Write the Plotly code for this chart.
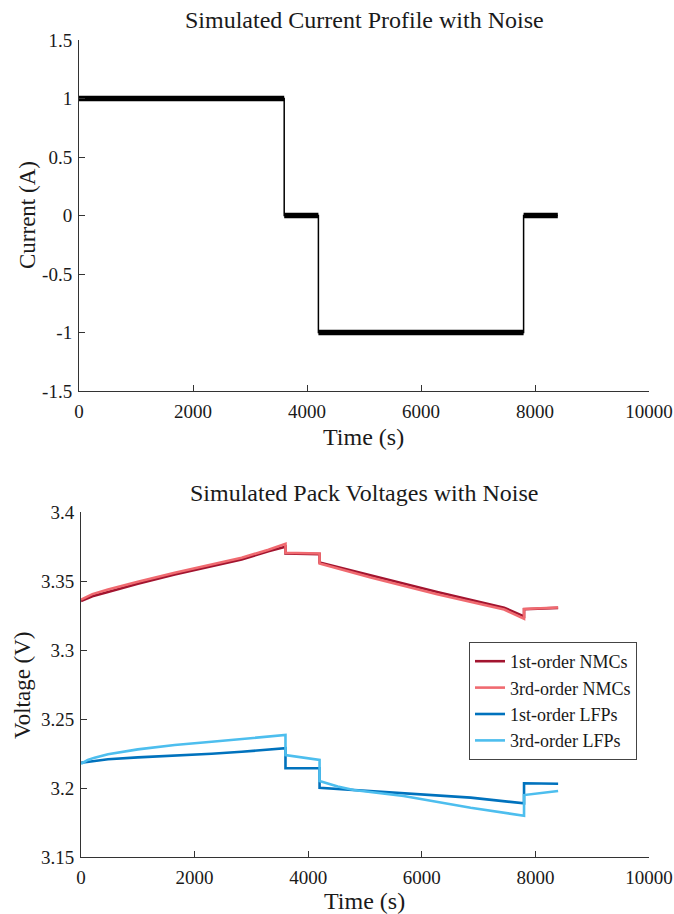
import plotly.graph_objects as go

# ---------------- data ----------------
# Current profile: plateaus (start time, end time, level)
cur_start = [0, 3600, 4200, 7800]
cur_end = [3600, 4200, 7800, 8400]
cur_level = [1.0, 0.0, -1.0, 0.0]

# Pack voltages (time in s, voltage in V); repeated times mark step jumps
nmc1_t = [0, 100, 200, 475, 1000, 1650, 2300, 2828, 3300, 3600, 3600, 4200, 4200, 5100, 6270, 7450, 7800, 7800, 8400]
nmc1_v = [3.3355, 3.3375, 3.3390, 3.3420, 3.3480, 3.3547, 3.3607, 3.3656, 3.3715, 3.3748, 3.3700, 3.3695, 3.3634, 3.3542, 3.3421, 3.3307, 3.3244, 3.3295, 3.3305]

nmc3_t = [0, 100, 200, 475, 1000, 1650, 2300, 2828, 3300, 3600, 3600, 4200, 4200, 5100, 6270, 7450, 7800, 7800, 8400]
nmc3_v = [3.3365, 3.3388, 3.3405, 3.3438, 3.3495, 3.3559, 3.3620, 3.3668, 3.3727, 3.3770, 3.3705, 3.3700, 3.3627, 3.3525, 3.3404, 3.3293, 3.3227, 3.3298, 3.3308]

lfp1_t = [0, 240, 475, 1000, 1650, 2300, 2828, 3600, 3600, 4200, 4200, 4800, 5680, 6860, 7800, 7800, 8400]
lfp1_v = [3.2183, 3.2198, 3.2208, 3.2222, 3.2234, 3.2248, 3.2263, 3.2288, 3.2143, 3.2143, 3.2002, 3.1986, 3.1966, 3.1930, 3.1889, 3.2034, 3.2031]

lfp3_t = [0, 120, 240, 475, 1000, 1650, 2300, 2828, 3300, 3600, 3600, 4200, 4200, 4520, 4800, 5680, 6860, 7800, 7800, 8100, 8400]
lfp3_v = [3.2175, 3.2203, 3.2220, 3.2244, 3.2280, 3.2312, 3.2335, 3.2353, 3.2370, 3.2384, 3.2239, 3.2203, 3.2051, 3.2011, 3.1986, 3.1942, 3.1857, 3.1799, 3.1949, 3.1966, 3.1978]

series_names = ["1st-order NMCs", "3rd-order NMCs", "1st-order LFPs", "3rd-order LFPs"]
series_colors = ["#A2142F", "#F06A70", "#0072BD", "#4DBEEE"]

x_ticks = [0, 2000, 4000, 6000, 8000, 10000]
x_ticktext = ["0", "2000", "4000", "6000", "8000", "10000"]
cur_ticks = [-1.5, -1, -0.5, 0, 0.5, 1, 1.5]
cur_ticktext = ["-1.5", "-1", "-0.5", "0", "0.5", "1", "1.5"]
v_ticks = [3.15, 3.2, 3.25, 3.3, 3.35, 3.4]
v_ticktext = ["3.15", "3.2", "3.25", "3.3", "3.35", "3.4"]

# ---------------- figure ----------------
W, H = 674, 914
FONT = "Liberation Serif"
AX = "#333333"
TXT = "#1a1a1a"

def px(x):
    return x / W

def py(y):
    return 1 - y / H

fig = go.Figure()

# current: thin step line through all plateaus
step_t, step_i = [], []
for s, e, lv in zip(cur_start, cur_end, cur_level):
    step_t += [s, e]
    step_i += [lv, lv]
fig.add_trace(go.Scatter(x=step_t, y=step_i, mode="lines",
                         line=dict(color="black", width=1.5),
                         showlegend=False, xaxis="x", yaxis="y", hoverinfo="skip"))
# current: thicker band on the plateaus (noise envelope)
band_t, band_i = [], []
for s, e, lv in zip(cur_start, cur_end, cur_level):
    band_t += [s, e, None]
    band_i += [lv, lv, None]
fig.add_trace(go.Scatter(x=band_t, y=band_i, mode="lines",
                         line=dict(color="black", width=5.5),
                         showlegend=False, xaxis="x", yaxis="y", hoverinfo="skip"))

for t, v, name, col in zip([nmc1_t, nmc3_t, lfp1_t, lfp3_t],
                           [nmc1_v, nmc3_v, lfp1_v, lfp3_v],
                           series_names, series_colors):
    fig.add_trace(go.Scatter(x=t, y=v, mode="lines", name=name,
                             line=dict(color=col, width=2.6),
                             xaxis="x2", yaxis="y2"))

axis_common = dict(showline=True, linecolor=AX, linewidth=1, ticks="inside",
                   ticklen=6, tickcolor=AX, tickwidth=1, showgrid=False,
                   zeroline=False, mirror=False, automargin=False,
                   tickfont=dict(family=FONT, size=19, color=TXT))

fig.update_layout(
    width=W, height=H,
    margin=dict(l=0, r=0, t=0, b=0, pad=0, autoexpand=False),
    paper_bgcolor="white", plot_bgcolor="white",
    font=dict(family=FONT, color=TXT),
    xaxis=dict(domain=[px(79), px(649)], range=[0, 10000], tickvals=x_ticks,
               ticktext=x_ticktext, anchor="y", ticklabelstandoff=3, **axis_common),
    yaxis=dict(domain=[py(391), py(40)], range=[-1.5, 1.5], tickvals=cur_ticks,
               ticktext=cur_ticktext, anchor="x", ticklabelstandoff=2, **axis_common),
    xaxis2=dict(domain=[px(81), px(649)], range=[0, 10000], tickvals=x_ticks,
                ticktext=x_ticktext, anchor="y2", ticklabelstandoff=3, **axis_common),
    yaxis2=dict(domain=[py(857), py(512)], range=[3.15, 3.4], tickvals=v_ticks,
                ticktext=v_ticktext, anchor="x2", ticklabelstandoff=2, **axis_common),
    legend=dict(x=px(469), y=py(642), xanchor="left", yanchor="top",
                bgcolor="white", bordercolor="#444444", borderwidth=1,
                font=dict(family=FONT, size=18, color=TXT),
                tracegroupgap=0, itemwidth=30),
    showlegend=True,
)

ann = [
    ("Simulated Current Profile with Noise", 364, 20, 0, 24),
    ("Time (s)", 363, 437, 0, 24),
    ("Current (A)", 27, 215, -90, 23),
    ("Simulated Pack Voltages with Noise", 364, 493, 0, 24),
    ("Time (s)", 364, 901, 0, 24),
    ("Voltage (V)", 22, 685, -90, 23),
]
for text, x, y, ang, size in ann:
    fig.add_annotation(text=text, x=px(x), y=py(y), xref="paper", yref="paper",
                       showarrow=False, textangle=ang, xanchor="center", yanchor="middle",
                       font=dict(family=FONT, size=size, color=TXT))

fig.write_html("out.html")
